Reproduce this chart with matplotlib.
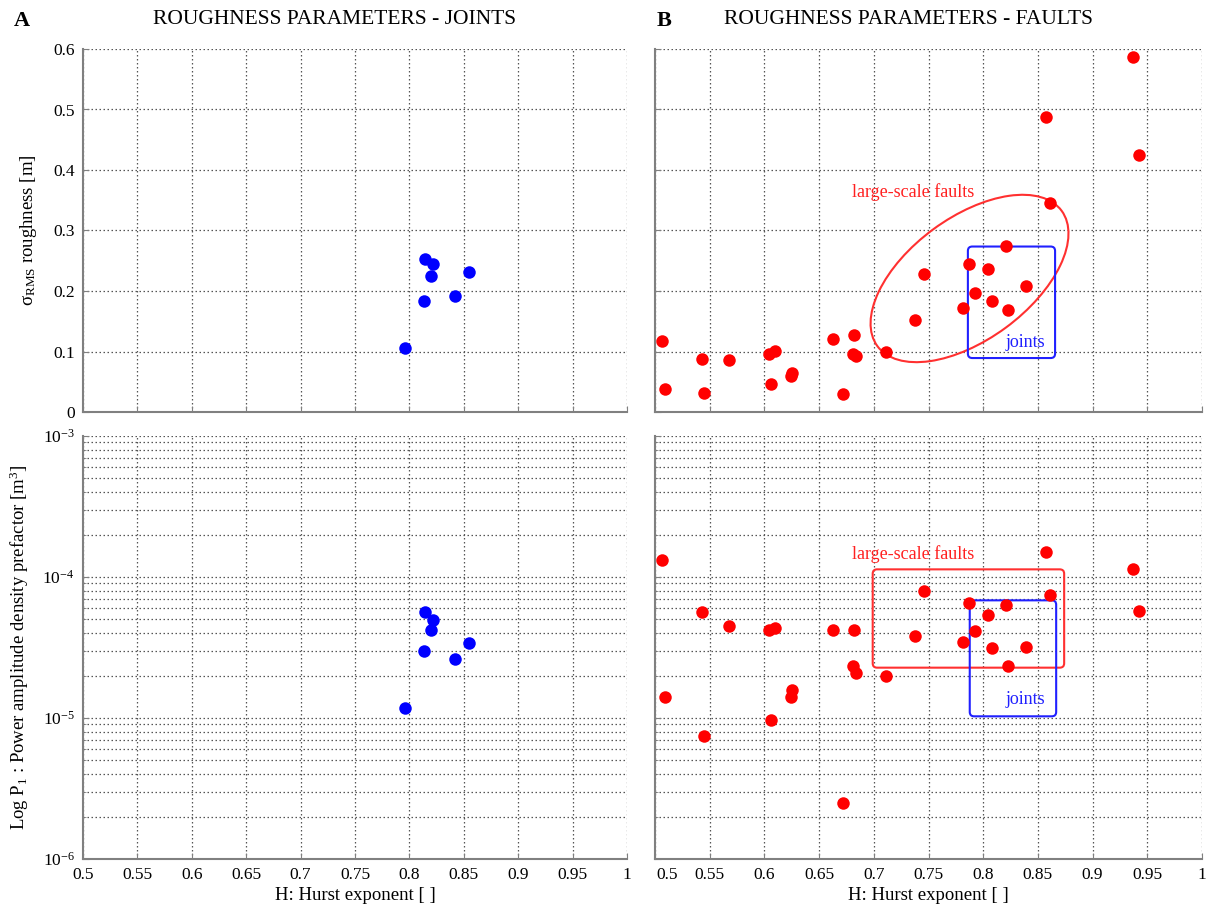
import numpy as np
import matplotlib.pyplot as plt
from matplotlib.patches import Ellipse, FancyBboxPatch
from matplotlib.transforms import ScaledTranslation
from matplotlib.ticker import LogLocator, NullFormatter

plt.rcParams['font.family'] = ['Liberation Serif', 'DejaVu Serif']
plt.rcParams['mathtext.fontset'] = 'custom'
plt.rcParams['mathtext.rm'] = 'Liberation Serif'
plt.rcParams['mathtext.it'] = 'Liberation Serif:italic'

# joints (panel A)
joint_H = [0.8145, 0.8213, 0.8195, 0.8552, 0.8132, 0.8416, 0.7964]
joint_rms = [0.253, 0.245, 0.224, 0.231, 0.183, 0.191, 0.106]
joint_p1 = [5.62e-5, 4.99e-5, 4.19e-5, 3.43e-5, 2.97e-5, 2.61e-5, 1.18e-5]

# faults (panel B)
fault_H = [0.5067, 0.5087, 0.543, 0.545, 0.5677, 0.604, 0.6093, 0.6063, 0.6253, 0.6243,
           0.6627, 0.6817, 0.6807, 0.684, 0.672, 0.7113, 0.738, 0.7463, 0.7813, 0.787,
           0.7927, 0.8047, 0.808, 0.821, 0.8223, 0.8393, 0.8573, 0.8607, 0.9373, 0.9423]
fault_rms = [0.118, 0.0385, 0.0875, 0.0319, 0.0864, 0.0963, 0.1002, 0.0462, 0.0644, 0.060,
             0.121, 0.128, 0.0963, 0.0919, 0.0303, 0.099, 0.152, 0.228, 0.172, 0.244,
             0.196, 0.236, 0.183, 0.274, 0.168, 0.209, 0.488, 0.345, 0.586, 0.425]
fault_p1 = [1.31e-4, 1.40e-5, 5.61e-5, 7.45e-6, 4.47e-5, 4.23e-5, 4.37e-5, 9.68e-6, 1.57e-5, 1.41e-5,
            4.23e-5, 4.18e-5, 2.34e-5, 2.10e-5, 2.51e-6, 1.98e-5, 3.84e-5, 7.96e-5, 3.44e-5, 6.58e-5,
            4.14e-5, 5.41e-5, 3.14e-5, 6.37e-5, 2.35e-5, 3.17e-5, 1.51e-4, 7.41e-5, 1.146e-4, 5.77e-5]

xticks = np.arange(0.5, 1.0001, 0.05)
xlabels = ['0.5', '0.55', '0.6', '0.65', '0.7', '0.75', '0.8', '0.85', '0.9', '0.95', '1']

W, H = 1210, 915
fig = plt.figure(figsize=(W / 100, H / 100), dpi=100)

def px_axes(l, r, t, b):
    return fig.add_axes([l / W, 1 - b / H, (r - l) / W, (b - t) / H])

ax_tl = px_axes(83, 627, 49, 412)
ax_tr = px_axes(655, 1202, 49, 412)
ax_bl = px_axes(83, 627, 436, 859)
ax_br = px_axes(655, 1202, 436, 859)

grid_kw = dict(color='#555555', linestyle=(0, (1.2, 2.0)), linewidth=0.9)

for ax in [ax_tl, ax_tr, ax_bl, ax_br]:
    ax.set_xlim(0.5, 1.0)
    ax.set_xticks(xticks)
    ax.set_xticklabels(xlabels)
    for s in ['top', 'right']:
        ax.spines[s].set_visible(False)
    for s in ['left', 'bottom']:
        ax.spines[s].set_color('#808080')
        ax.spines[s].set_linewidth(1.5)
    ax.tick_params(direction='in', length=4, color='#808080', labelsize=12.5,
                   top=False, right=False)
    ax.tick_params(axis='y', pad=6)
    ax.tick_params(axis='x', pad=6)
    ax.set_axisbelow(True)

for ax in [ax_tl, ax_tr]:
    ax.set_ylim(0, 0.6)
    ax.set_yticks(np.arange(0, 0.61, 0.1))
    ax.set_yticklabels(['0', '0.1', '0.2', '0.3', '0.4', '0.5', '0.6'])
    ax.grid(True, **grid_kw)
    ax.tick_params(labelbottom=False)

for ax in [ax_bl, ax_br]:
    ax.set_yscale('log')
    ax.set_ylim(1e-6, 1e-3)
    ax.yaxis.set_major_locator(LogLocator(base=10, numticks=10))
    ax.yaxis.set_minor_locator(LogLocator(base=10, subs=np.arange(2, 10), numticks=20))
    ax.yaxis.set_minor_formatter(NullFormatter())
    ax.tick_params(which='minor', direction='in', length=2.5, color='#808080', right=False)
    ax.grid(True, which='both', axis='y', **grid_kw)
    ax.grid(True, which='major', axis='x', **grid_kw)

for ax in [ax_tr, ax_br]:
    ax.tick_params(labelleft=False)

# points
ms = 9
ax_tl.plot(joint_H, joint_rms, 'o', color='#0000ff', ms=ms, mec='none')
ax_bl.plot(joint_H, joint_p1, 'o', color='#0000ff', ms=ms, mec='none')
ax_tr.plot(fault_H, fault_rms, 'o', color='#ff0000', ms=ms, mec='none')
ax_br.plot(fault_H, fault_p1, 'o', color='#ff0000', ms=ms, mec='none')

# shift the first tick label of panel B a bit right, like the original
lbl = ax_br.xaxis.get_majorticklabels()[0]
lbl.set_transform(lbl.get_transform() + ScaledTranslation(0.12, 0, fig.dpi_scale_trans))

# annotations
ell = Ellipse((0, 0), 2.286, 1.222, angle=36.3, fill=False, ec='#ff3030', lw=1.5,
              transform=fig.dpi_scale_trans + ScaledTranslation(0.7875, 0.2207, ax_tr.transData))
ax_tr.add_patch(ell)

def rounded_box(ax, x0, x1, y0, y1, color):
    to_axes = ax.transScale + ax.transLimits
    (a0, b0), (a1, b1) = to_axes.transform([(x0, y0), (x1, y1)])
    bb = ax.get_window_extent()
    box = FancyBboxPatch((a0, b0), a1 - a0, b1 - b0,
                         boxstyle='round,pad=0,rounding_size=0.008',
                         mutation_aspect=bb.width / bb.height,
                         transform=ax.transAxes, fill=False, ec=color, lw=1.5)
    ax.add_patch(box)

rounded_box(ax_tr, 0.786, 0.8657, 0.0892, 0.2735, '#2020ff')
rounded_box(ax_br, 0.699, 0.874, 2.275e-5, 1.133e-4, '#ff3030')
rounded_box(ax_br, 0.7877, 0.8667, 1.028e-5, 6.83e-5, '#2020ff')

ax_tr.text(0.736, 0.364, 'large-scale faults', color='#ff2020', fontsize=13, ha='center', va='center')
ax_tr.text(0.839, 0.1156, 'joints', color='#2020ff', fontsize=13, ha='center', va='center')
ax_br.text(0.736, 1.46e-4, 'large-scale faults', color='#ff2020', fontsize=13, ha='center', va='center')
ax_br.text(0.839, 1.35e-5, 'joints', color='#2020ff', fontsize=13, ha='center', va='center')

# labels
ax_tl.set_ylabel('σ$_{\\mathrm{RMS}}$ roughness [m]', fontsize=13.5)
ax_tl.yaxis.set_label_coords(-0.08, 0.5)
ax_bl.set_ylabel('Log P$_{\\mathrm{1}}$ : Power amplitude density prefactor [m$^{\\mathrm{3}}$]', fontsize=13.5)
ax_bl.yaxis.set_label_coords(-0.095, 0.5)
for ax in [ax_bl, ax_br]:
    ax.set_xlabel('H: Hurst exponent [ ]', fontsize=13.5)
    ax.xaxis.set_label_coords(0.5, -0.066)

fig.text(335 / W, 1 - 20 / H, 'ROUGHNESS PARAMETERS - JOINTS', ha='center', va='center', fontsize=15.5)
fig.text(909 / W, 1 - 20 / H, 'ROUGHNESS PARAMETERS - FAULTS', ha='center', va='center', fontsize=15.5)
fig.text(22 / W, 1 - 21 / H, 'A', ha='center', va='center', fontsize=16, fontweight='bold')
fig.text(664 / W, 1 - 21 / H, 'B', ha='center', va='center', fontsize=16, fontweight='bold')

fig.savefig('out.png', dpi=100, facecolor='white')
